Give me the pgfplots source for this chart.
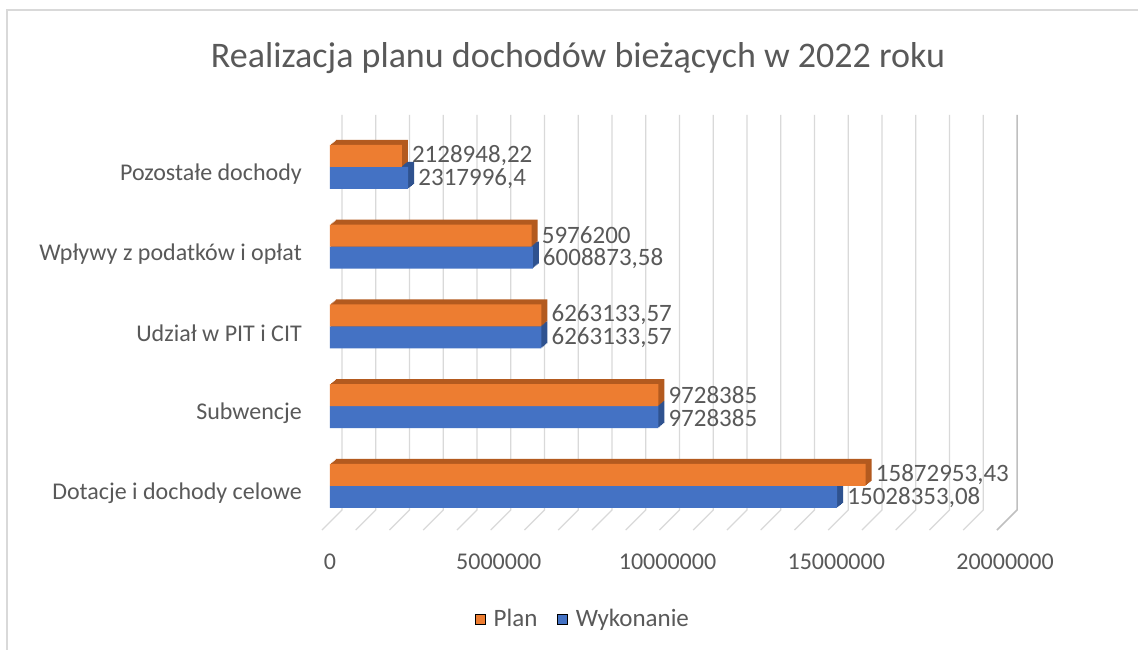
\documentclass[border=0pt]{standalone}
\usepackage{pgfplots}
\pgfplotsset{compat=1.18}
\usepackage{pgfplotstable}
\usepackage{fontspec}
\setmainfont{Carlito}
\definecolor{plan}{HTML}{ED7D31}
\definecolor{plandark}{HTML}{B35A1F}
\definecolor{wyk}{HTML}{4472C4}
\definecolor{wykdark}{HTML}{2F528F}
\definecolor{txt}{HTML}{595959}
\definecolor{gridc}{HTML}{D9D9D9}
\definecolor{gridd}{HTML}{BFBFBF}

\pgfplotstableread{
y x lab
0 15872953.43 15872953,43
1 9728385 9728385
2 6263133.57 6263133,57
3 5976200 5976200
4 2128948.22 2128948,22
}\plantable

\pgfplotstableread{
y x lab
0 15028353.08 15028353,08
1 9728385 9728385
2 6263133.57 6263133,57
3 6008873.58 6008873,58
4 2317996.4 2317996,4
}\wyktable

\tikzset{
  extrude/.style={
    preaction={fill=#1, transform canvas={shift={(1.2pt,1pt)}}},
    preaction={fill=#1, transform canvas={shift={(2.4pt,2pt)}}},
    preaction={fill=#1, transform canvas={shift={(3.6pt,3pt)}}},
    preaction={fill=#1, transform canvas={shift={(4.8pt,4pt)}}},
    preaction={fill=#1, transform canvas={shift={(6pt,5pt)}}},
  }
}

\begin{document}
\begin{tikzpicture}
\useasboundingbox (-330pt,-119pt) rectangle (808pt,530pt);
\fill[white] (-330pt,-119pt) rectangle (808pt,530pt);
\draw[gridc, line width=2pt] (-323pt,-125pt) -- (-323pt,520pt) -- (815pt,520pt);
\begin{axis}[
  at={(0pt,0pt)}, anchor=south west,
  scale only axis, width=675pt, height=415pt,
  xmin=0, xmax=20000000, ymin=-0.552, ymax=4.652,
  clip=false,
  axis line style={draw=none}, major tick length=0pt,
  xtick={0,5000000,10000000,15000000,20000000},
  scaled x ticks=false,
  xticklabel style={/pgf/number format/fixed, /pgf/number format/1000 sep={},
    /pgf/number format/assume math mode=true,
    font=\fontsize{24}{28}\selectfont, text=txt, inner sep=0pt, yshift=-24pt},
  ytick={0,1,2,3,4},
  yticklabels={Dotacje i dochody celowe, Subwencje, Udział w PIT i CIT, Wpływy z podatków i opłat, Pozostałe dochody},
  yticklabel style={font=\fontsize{24}{28}\selectfont, text=txt, inner sep=0pt, xshift=-28pt, yshift=-7pt},
  legend columns=2,
  legend style={at={(0.375,-0.2145)}, anchor=center, draw=none, fill=none,
    font=\fontsize{25}{29}\selectfont, text=txt,
    /tikz/every even column/.append style={column sep=18pt}},
  legend image code/.code={\fill[#1] (0pt,-5pt) rectangle (10pt,5pt); \path (16pt,0pt);},
]
\pgfplotsinvokeforeach{0,1000000,2000000,3000000,4000000,5000000,6000000,7000000,8000000,9000000,10000000,11000000,12000000,13000000,14000000,15000000,16000000,17000000,18000000,19000000}{
  \draw[gridc, line width=1.3pt] ([xshift=12pt]axis cs:#1,4.652) -- ([xshift=12pt,yshift=20pt]axis cs:#1,-0.552) -- ([xshift=-8pt]axis cs:#1,-0.552);
}
\draw[gridd, line width=1.5pt] ([xshift=12pt]axis cs:20000000,4.652) -- ([xshift=12pt,yshift=20pt]axis cs:20000000,-0.552) -- ([xshift=-8pt]axis cs:20000000,-0.552);

\addlegendimage{fill=plan}
\addlegendentry{Plan}
\addlegendimage{fill=wyk}
\addlegendentry{Wykonanie}

\addplot[forget plot, xbar, bar width=22pt, bar shift=-11pt, fill=wyk, draw=none, extrude=wykdark,
  point meta=explicit symbolic, nodes near coords,
  every node near coord/.append style={font=\fontsize{25}{29}\selectfont, text=txt, inner sep=0pt, anchor=west, xshift=10pt, yshift=-11.5pt}]
  table[x=x, y=y, meta=lab] {\wyktable};
\addplot[forget plot, xbar, bar width=22pt, bar shift=11pt, fill=plan, draw=none, extrude=plandark,
  point meta=explicit symbolic, nodes near coords,
  every node near coord/.append style={font=\fontsize{25}{29}\selectfont, text=txt, inner sep=0pt, anchor=west, xshift=10pt, yshift=11.5pt}]
  table[x=x, y=y, meta=lab] {\plantable};
\end{axis}
\node[font=\fontsize{36}{42}\selectfont, text=txt] at (248pt,472pt) {Realizacja planu dochodów bieżących w 2022 roku};
\end{tikzpicture}
\end{document}
